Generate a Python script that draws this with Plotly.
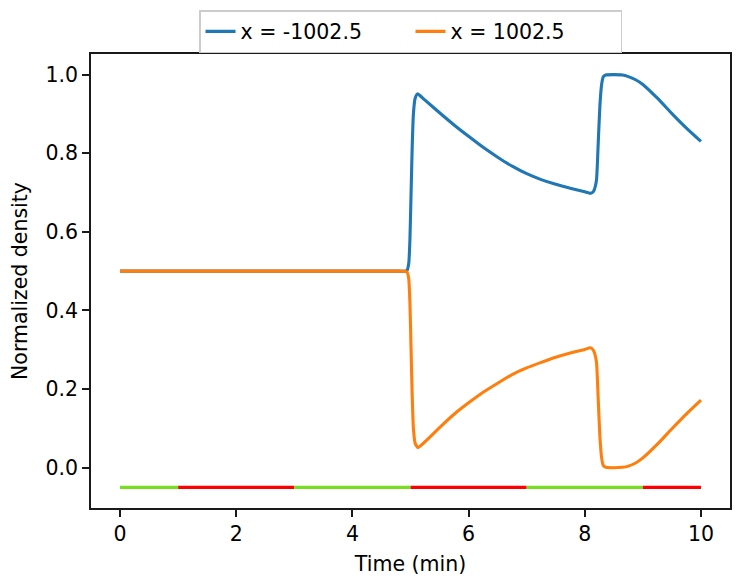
import plotly.graph_objects as go

# ---- data ----
t_left = [0, 1, 2, 3, 4, 4.5, 4.8, 4.9, 4.94, 4.97, 4.99, 5.01, 5.03, 5.05, 5.08, 5.12, 5.25, 5.5,
          5.75, 6.0, 6.25, 6.5, 6.75, 7.0, 7.25, 7.5, 7.75, 8.0, 8.1, 8.15, 8.2, 8.23, 8.26, 8.29,
          8.32, 8.36, 8.5, 8.65, 8.75, 8.875, 9.0, 9.25, 9.5, 9.75, 10.0]
rho_left = [0.5, 0.5, 0.5, 0.5, 0.5, 0.5, 0.5, 0.5, 0.502, 0.52, 0.58, 0.70, 0.82, 0.90, 0.94, 0.951,
            0.935, 0.903, 0.872, 0.843, 0.815, 0.790, 0.767, 0.748, 0.733, 0.721, 0.711, 0.702,
            0.698, 0.703, 0.73, 0.82, 0.92, 0.975, 0.995, 0.999, 1.0, 0.999, 0.995, 0.987, 0.975,
            0.940, 0.901, 0.864, 0.830]

t_right = [0, 1, 2, 3, 4, 4.5, 4.8, 4.9, 4.94, 4.97, 4.99, 5.01, 5.03, 5.05, 5.08, 5.13, 5.25, 5.5,
           5.75, 6.0, 6.25, 6.5, 6.75, 7.0, 7.25, 7.5, 7.75, 8.0, 8.1, 8.15, 8.2, 8.23, 8.26, 8.29,
           8.32, 8.36, 8.5, 8.65, 8.75, 8.875, 9.0, 9.25, 9.5, 9.75, 10.0]
rho_right = [0.5, 0.5, 0.5, 0.5, 0.5, 0.5, 0.5, 0.5, 0.498, 0.48, 0.42, 0.30, 0.18, 0.10, 0.062, 0.051,
             0.066, 0.102, 0.136, 0.165, 0.192, 0.215, 0.237, 0.254, 0.268, 0.281, 0.292, 0.301,
             0.305, 0.298, 0.27, 0.18, 0.08, 0.025, 0.005, 0.001, 0.0, 0.001, 0.004, 0.012, 0.025,
             0.060, 0.099, 0.137, 0.172]

series_names = ["x = -1002.5", "x = 1002.5"]
series_colors = ["#1f77b4", "#ff7f0e"]

# signal phases shown as the bar at the bottom
phase_start = [0, 1, 3, 5, 7, 9]
phase_end = [1, 3, 5, 7, 9, 10]
phase_color = ["#77dd1f", "#ff0000", "#77dd1f", "#ff0000", "#77dd1f", "#ff0000"]
phase_level = -0.05

x_ticks = [0, 2, 4, 6, 8, 10]
y_ticks = [0.0, 0.2, 0.4, 0.6, 0.8, 1.0]

FONT = "DejaVu Sans"
FS = 20.5
LW = 3.1

fig = go.Figure()
for s, e, c in zip(phase_start, phase_end, phase_color):
    fig.add_trace(go.Scatter(x=[s, e], y=[phase_level, phase_level], mode="lines",
                             line=dict(color=c, width=LW), showlegend=False, hoverinfo="skip"))

for tt, yy, n, c in zip([t_left, t_right], [rho_left, rho_right], series_names, series_colors):
    fig.add_trace(go.Scatter(x=tt, y=yy, mode="lines", name=n,
                             line=dict(color=c, width=LW, shape="spline", smoothing=0.5)))

axis_common = dict(showline=True, linecolor="#1a1a1a", linewidth=1.7, mirror=True,
                   ticks="outside", ticklen=7, tickwidth=1.7, tickcolor="#1a1a1a",
                   showgrid=False, zeroline=False, automargin=False,
                   tickfont=dict(family=FONT, size=FS, color="#000000"))

# the page body adds an 8px offset, so the figure is 8px smaller and margins shifted
fig.update_layout(
    width=737, height=578,
    margin=dict(l=83, r=15, t=46, b=78, autoexpand=False),
    paper_bgcolor="white", plot_bgcolor="white",
    font=dict(family=FONT, size=FS, color="#000000"),
    xaxis=dict(range=[-0.5, 10.5], tickvals=x_ticks, ticktext=[str(v) for v in x_ticks],
               title=dict(text="Time (min)", font=dict(family=FONT, size=FS), standoff=11),
               **axis_common),
    yaxis=dict(range=[-0.1025, 1.0525], tickvals=y_ticks, ticktext=[f"{v:.1f}" for v in y_ticks],
               title=dict(text="Normalized density", font=dict(family=FONT, size=FS), standoff=13),
               **axis_common),
    legend=dict(orientation="h", x=0.5, xanchor="center", y=1.002, yanchor="bottom",
                bordercolor="#cccccc", borderwidth=1.5, bgcolor="white",
                entrywidth=165, entrywidthmode="pixels",
                font=dict(family=FONT, size=FS), traceorder="normal"),
)

fig.write_html("out.html")
